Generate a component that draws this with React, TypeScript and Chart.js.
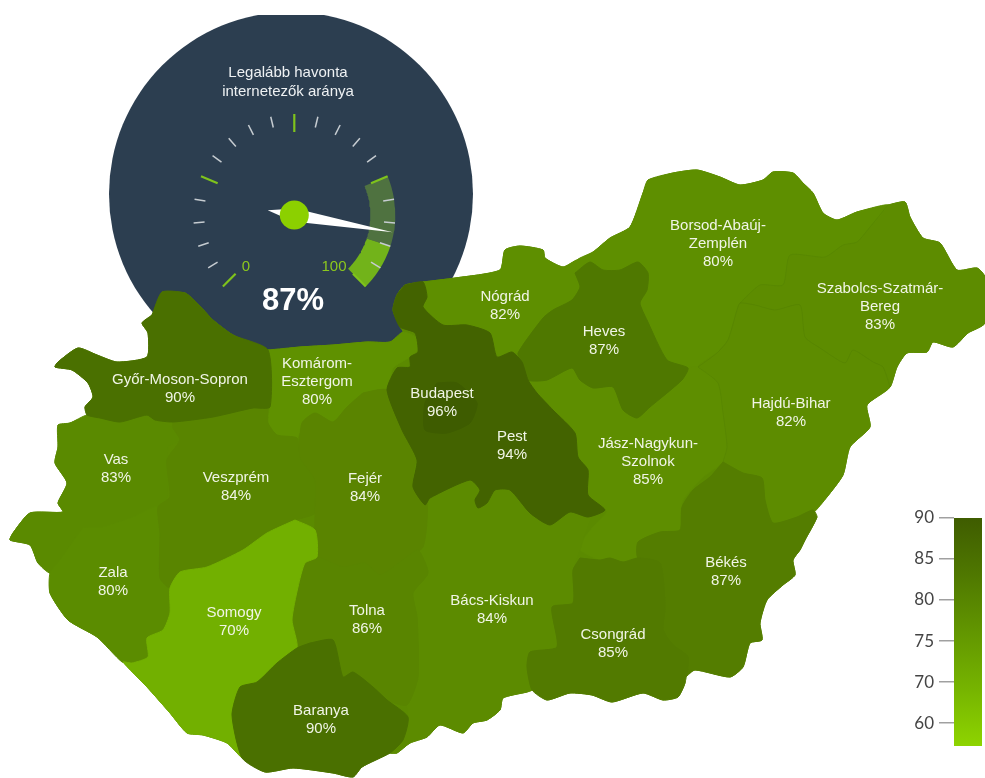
import React, { useEffect, useRef } from "react";
import { Chart, registerables } from "chart.js";

Chart.register(...registerables);

// ---------- county data ----------
const countyNames = ["Győr-Moson-Sopron","Komárom-Esztergom","Vas","Veszprém","Fejér","Zala","Somogy","Tolna","Baranya","Budapest","Pest","Nógrád","Heves","Jász-Nagykun-Szolnok","Borsod-Abaúj-Zemplén","Szabolcs-Szatmár-Bereg","Hajdú-Bihar","Bács-Kiskun","Csongrád","Békés"];
const countyShare = [90,80,83,84,84,80,70,86,90,96,94,82,87,85,80,83,82,84,85,87];
const countyColors = ["#4a7000","#5f9100","#5a8a00","#598500","#5a8400","#5b8c00","#72b000","#598500","#4a7000","#3e5c00","#436300","#5e8f00","#4f7800","#5e8e00","#5e8f00","#5d8c00","#5d8c00","#5c8b00","#527a00","#547d00"];
const countyLabelLines = [["Győr-Moson-Sopron"],["Komárom-","Esztergom"],["Vas"],["Veszprém"],["Fejér"],["Zala"],["Somogy"],["Tolna"],["Baranya"],["Budapest"],["Pest"],["Nógrád"],["Heves"],["Jász-Nagykun-","Szolnok"],["Borsod-Abaúj-","Zemplén"],["Szabolcs-Szatmár-","Bereg"],["Hajdú-Bihar"],["Bács-Kiskun"],["Csongrád"],["Békés"]];
const countyLabelAnchor = [[180,389],[317,382],[116,469],[236,487],[365,488],[113,582],[234,622],[367,620],[321,720],[442,403],[512,446],[505,306],[604,341],[648,462],[718,244],[880,307],[791,413],[492,610],[613,644],[726,572]];

const countryOutline = [162,292,185,293,197,303,213,320,233,335,268,350,300,347,333,345,367,342,390,342,403,332,400,327,393,310,397,295,405,285,423,282,455,278,500,270,505,250,520,246,543,250,545,258,563,267,577,260,593,252,610,238,630,227,643,193,648,180,673,173,697,170,720,177,740,185,763,180,773,172,793,173,803,183,813,193,823,213,837,220,857,212,888,205,905,202,910,217,923,238,940,243,957,270,977,268,985,277,985,323,968,333,953,347,933,342,927,352,907,353,897,367,890,387,867,405,870,427,850,447,843,475,827,497,813,513,817,517,805,540,800,550,793,560,795,575,783,585,767,600,760,623,762,640,750,643,743,667,730,677,695,670,685,677,685,683,678,697,663,700,643,693,612,702,592,695,570,693,547,700,532,690,527,692,503,698,500,710,487,720,473,723,463,733,440,725,427,737,410,743,397,753,390,753,362,767,353,777,333,773,293,768,265,772,242,758,227,743,203,735,187,733,170,713,147,687,123,662,97,637,68,620,50,593,50,573,38,563,30,545,10,540,13,533,30,513,63,512,58,503,67,483,55,463,58,447,58,425,70,423,87,415,85,407,93,397,88,383,72,370,55,367,58,362,78,348,97,355,117,362,147,357,148,333,142,323,152,315];
const gyor = [152,315,162,292,185,293,197,303,213,320,233,335,268,350,270,407,253,408,213,417,173,422,155,420,147,415,120,422,100,418,87,415,85,407,93,397,88,383,72,370,55,367,58,362,78,348,97,355,117,362,147,357,148,333,142,323];
const komarom = [268,350,300,347,333,345,367,342,390,342,403,332,417,338,418,350,410,357,393,368,387,390,363,393,347,407,333,422,315,413,302,423,297,438,277,435,268,423,270,407];
const vas = [58,425,70,423,87,415,100,418,120,422,147,415,155,420,173,428,180,440,168,447,167,497,158,507,150,510,133,517,103,527,83,528,60,560,50,573,38,563,30,545,10,540,13,533,30,513,63,512,58,503,67,483,55,463,58,447];
const veszprem = [173,422,213,417,253,408,267,407,268,423,277,435,297,438,300,457,315,480,315,513,295,520,267,533,243,550,207,567,180,572,170,588,160,578,160,533,158,507,170,497,167,460,180,440,173,428];
const fejer = [363,393,377,390,387,390,397,417,417,447,413,480,427,503,423,547,403,560,380,575,365,563,343,567,317,557,315,513,315,480,300,457,302,423,315,413,333,422,347,407];
const zala = [83,528,103,527,133,517,158,507,160,578,170,588,170,613,163,630,147,638,148,657,132,663,122,662,97,637,68,620,50,593,50,573,60,560];
const somogy = [295,520,315,530,317,557,305,563,298,587,292,620,297,648,277,663,257,682,240,687,232,715,242,757,227,743,203,735,187,733,170,713,147,687,123,662,132,663,148,657,147,638,163,630,170,613,170,588,180,572,207,567,243,550,267,533];
const tolna = [305,563,317,557,343,567,365,563,380,575,403,560,418,550,428,573,413,593,417,617,418,677,407,705,387,700,373,687,353,672,343,677,333,640,310,643,297,648,292,620,298,587];
const baranya = [310,643,333,640,343,677,353,672,373,687,387,700,408,717,403,740,390,753,362,767,353,777,333,773,293,768,265,772,242,758,232,715,240,687,257,682,277,663,297,648];
const budapest = [437,383,457,383,477,403,470,423,447,433,425,430,425,403];
const pest = [405,285,423,282,427,297,423,307,443,325,467,325,490,333,497,357,512,352,522,362,528,380,537,393,553,410,575,433,578,457,588,470,588,495,605,510,588,517,570,512,550,525,530,513,510,490,495,490,487,503,478,508,475,500,480,490,470,480,430,498,425,505,413,487,417,460,402,430,387,390,397,368,410,367,410,357,418,352,415,333,400,327,393,310,397,295];
const nograd = [423,282,455,278,500,270,505,250,520,246,543,250,545,258,563,267,577,260,575,273,580,287,572,300,553,310,543,318,518,353,512,352,497,357,490,333,467,325,443,325,423,307,427,297];
const heves = [575,273,590,262,603,270,620,270,638,262,648,273,647,290,640,303,647,320,667,360,688,368,682,380,650,407,637,418,623,410,613,387,593,388,580,380,572,368,547,380,528,380,522,362,518,353,543,318,553,310,572,300,580,287];
const jasz = [528,382,547,380,572,368,580,380,593,388,613,387,623,410,637,418,650,407,682,380,688,368,698,367,718,383,723,413,727,447,723,462,703,477,683,500,680,517,680,530,660,532,638,542,638,558,623,562,610,558,600,560,580,550,583,540,593,527,607,512,605,510,588,495,588,470,578,457,575,433,553,410,537,393];
const borsod = [648,180,673,173,697,170,720,177,740,185,763,180,773,172,793,173,803,183,813,193,823,213,837,220,857,212,888,205,870,227,857,242,843,245,825,257,790,255,783,285,760,285,740,303,737,310,728,340,717,353,698,367,688,368,667,360,647,320,640,303,647,290,648,273,638,262,620,270,603,270,590,262,575,273,577,260,593,252,610,238,630,227,643,193];
const szabolcs = [888,205,905,202,910,217,923,238,940,243,957,270,977,268,985,277,985,323,968,333,953,347,933,342,927,352,907,353,897,367,890,387,883,367,873,362,853,350,845,363,820,348,805,337,800,305,775,310,755,305,740,303,760,285,783,285,790,255,825,257,843,245,857,242,870,227];
const hajdu = [740,303,755,305,775,310,800,305,805,337,820,348,845,363,853,350,873,362,883,367,890,387,867,405,870,427,850,447,843,475,827,497,813,513,797,517,773,523,765,500,762,478,743,473,723,462,727,447,723,413,718,383,698,367,717,353,728,340,737,310];
const bacs = [428,500,430,498,470,480,480,490,475,500,478,508,487,503,495,490,510,490,530,513,550,525,570,512,588,517,593,512,583,540,580,550,573,570,573,603,552,607,557,647,530,652,527,667,532,690,527,692,503,698,500,710,487,720,473,723,463,733,440,725,427,737,410,743,397,753,390,753,403,740,408,717,407,705,418,677,417,617,413,593,428,573,418,550,423,547,427,503];
const csongrad = [580,558,600,560,610,558,623,562,638,558,660,563,665,607,663,630,673,645,688,657,685,683,678,697,663,700,643,693,612,702,592,695,570,693,547,700,532,690,527,667,530,652,557,647,552,607,573,603,573,570];
const bekes = [723,462,710,477,693,490,682,507,680,530,660,532,638,542,638,558,660,563,665,607,663,630,673,645,688,657,685,677,695,670,730,677,743,667,750,643,762,640,760,623,767,600,783,585,795,575,793,560,800,550,805,540,817,517,813,510,797,517,773,523,765,500,762,478,743,473];
const faintEdgeA = [888,205,870,227,857,242,843,245,825,257,790,255,783,285,760,285,740,303];
const faintEdgeB = [698,367,717,353,728,340,737,310,740,303,755,305,775,310,800,305,805,337,820,348,845,363,853,350,873,362,883,367,890,387];
const faintEdgeC = [698,367,718,383,723,413,727,447,723,462];

// Order in which the outlines are stacked; later ones lie on top.
const countyOutlines: Record<string, number[]> = {
  "Győr-Moson-Sopron": gyor, "Komárom-Esztergom": komarom, "Vas": vas, "Veszprém": veszprem, "Fejér": fejer, "Zala": zala, "Somogy": somogy, "Tolna": tolna, "Baranya": baranya, "Budapest": budapest, "Pest": pest, "Nógrád": nograd, "Heves": heves, "Jász-Nagykun-Szolnok": jasz, "Borsod-Abaúj-Zemplén": borsod, "Szabolcs-Szatmár-Bereg": szabolcs, "Hajdú-Bihar": hajdu, "Bács-Kiskun": bacs, "Csongrád": csongrad, "Békés": bekes,
};
const stackOrder = ["Szabolcs-Szatmár-Bereg","Borsod-Abaúj-Zemplén","Hajdú-Bihar","Nógrád","Komárom-Esztergom","Jász-Nagykun-Szolnok","Bács-Kiskun","Vas","Zala","Veszprém","Fejér","Tolna","Somogy","Baranya","Győr-Moson-Sopron","Békés","Csongrád","Heves","Pest","Budapest"];

// ---------- gauge data ----------
const gaugeTitle = ["Legalább havonta", "internetezők aránya"];
const gaugeValue = 87;
const gaugeTickValues = [0,5,10,15,20,25,30,35,40,45,50,55,60,65,70,75,80,85,90,95,100];
const gaugeMajorTicks = [0,25,50,75,100];
const gaugeBandValues = [75,90,100];
const gaugeBandColors = ["#4f7240","#72b31a"];
const gaugeCenter = { x: 294.3, y: 215 };
const dialCenter = { x: 291, y: 194 };

// ---------- colour scale data ----------
const legendTickLabels = ["60","70","75","80","85","90"];
const legendTickRanks = [0,1,2,3,4,5];
const legendExtent = [-0.56,5];
const legendStops = ["#3f5c00","#4f7800","#629600","#76b400","#8ed400"];

const FONT = '"Liberation Sans", Arial, sans-serif';

const toPath = (flat: number[]) => {
  const pts: { x: number; y: number }[] = [];
  for (let i = 0; i < flat.length; i += 2) pts.push({ x: flat[i], y: flat[i + 1] });
  return pts;
};
const toPoints = (flat: number[]) => {
  const pts = toPath(flat);
  pts.push({ x: flat[0], y: flat[1] });
  return pts;
};
const polar = (v: number, r: number) => {
  const a = ((-135 + 2.7 * v) * Math.PI) / 180;
  return { x: gaugeCenter.x + r * Math.sin(a), y: gaugeCenter.y - r * Math.cos(a) };
};
const bandPoints = (from: number, to: number) => {
  const out: { x: number; y: number }[] = [];
  for (let v = from; v <= to; v += 0.5) out.push(polar(v, 101));
  for (let v = to; v >= from; v -= 0.5) out.push(polar(v, 76));
  out.push(polar(from, 101));
  return out;
};
const needlePoints = (v: number) => {
  const tip = polar(v, 100);
  const tail = polar(v, -27);
  const side = 6.5;
  const a = polar(v + 90 / 2.7, side);
  const b = polar(v - 90 / 2.7, side);
  return [tail, a, tip, b, tail];
};

const textPlugin = {
  id: "mapText",
  afterDatasetsDraw(chart: any) {
    const { ctx, scales } = chart;
    const px = (v: number) => scales.x.getPixelForValue(v);
    const py = (v: number) => scales.y.getPixelForValue(v);
    ctx.save();
    ctx.textAlign = "center";
    ctx.textBaseline = "middle";
    ctx.font = `15px ${FONT}`;
    ctx.fillStyle = "#f1f5e6";
    countyNames.forEach((name, i) => {
      const lines = [...countyLabelLines[i], `${countyShare[i]}%`];
      const [ax, ay] = countyLabelAnchor[i];
      lines.forEach((t, k) => {
        ctx.fillText(t, px(ax), py(ay + (k - (lines.length - 1) / 2) * 18));
      });
    });
    ctx.font = `15px ${FONT}`;
    ctx.fillStyle = "#eef1f3";
    gaugeTitle.forEach((t, k) => ctx.fillText(t, px(288), py(73 + k * 19)));
    ctx.font = `15px ${FONT}`;
    ctx.fillStyle = "#8cc81e";
    ctx.fillText("0", px(246), py(267));
    ctx.fillText("100", px(334), py(267));
    ctx.font = `bold 31px ${FONT}`;
    ctx.fillStyle = "#ffffff";
    ctx.fillText(`${gaugeValue}%`, px(293), py(301));
    ctx.restore();
  },
};

export default function App() {
  const mapRef = useRef<HTMLCanvasElement>(null);
  const legendRef = useRef<HTMLCanvasElement>(null);

  useEffect(() => {
    const line = (data: any[], color: string, width: number, fill: boolean, tension = 0) => ({
      data,
      showLine: true,
      fill: fill ? "shape" : false,
      backgroundColor: color,
      borderColor: color,
      borderWidth: width,
      pointRadius: 0,
      tension,
    });
    const datasets: any[] = [];
    datasets.push({
      data: [dialCenter],
      pointRadius: 182,
      pointBackgroundColor: "#2c3e50",
      pointBorderWidth: 0,
      showLine: false,
      clip: 0,
    });
    gaugeBandColors.forEach((c, i) => {
      datasets.push(line(bandPoints(gaugeBandValues[i], gaugeBandValues[i + 1]), c, 0, true));
    });
    gaugeTickValues.forEach((v) => {
      const major = gaugeMajorTicks.includes(v);
      const color = major ? "#7fc31c" : "#c6ccd1";
      datasets.push(line([polar(v, major ? 83 : 90), polar(v, 101)], color, major ? 2.2 : 1.5, false));
    });
    datasets.push(line(needlePoints(gaugeValue), "#ffffff", 0, true));
    datasets.push({
      data: [gaugeCenter],
      pointRadius: 14.5,
      pointBackgroundColor: "#8cd000",
      pointBorderWidth: 0,
      showLine: false,
    });
    datasets.push(line(toPoints(countryOutline), "#5b8a00", 1, true, 0.2));
    stackOrder.forEach((name) => {
      const i = countyNames.indexOf(name);
      datasets.push(line(toPoints(countyOutlines[name]), countyColors[i], 1, true, 0.2));
    });
    [faintEdgeA, faintEdgeB, faintEdgeC].forEach((edge) => {
      datasets.push(line(toPath(edge), "rgba(74,112,0,0.22)", 1, false, 0.2));
    });
    datasets.forEach((d, i) => (d.order = -i));

    const map = new Chart(mapRef.current as HTMLCanvasElement, {
      type: "scatter",
      data: { datasets },
      options: {
        animation: false,
        responsive: false,
        events: [],
        layout: { autoPadding: false, padding: { top: 15 } },
        plugins: { legend: { display: false }, tooltip: { enabled: false } },
        scales: {
          x: { type: "linear", min: 0, max: 985, display: false },
          y: { type: "linear", min: 15, max: 778, reverse: true, display: false },
        },
      },
      plugins: [textPlugin],
    } as any);

    const legend = new Chart(legendRef.current as HTMLCanvasElement, {
      type: "bar",
      data: {
        labels: ["scale"],
        datasets: [{
          data: [legendExtent],
          barPercentage: 1,
          categoryPercentage: 1,
          borderWidth: 0,
          borderSkipped: false,
          backgroundColor: (c: any) => {
            const area = c.chart.chartArea;
            if (!area) return legendStops[0];
            const g = c.chart.ctx.createLinearGradient(0, area.top, 0, area.bottom);
            legendStops.forEach((s, i) => g.addColorStop(i / (legendStops.length - 1), s));
            return g;
          },
        }],
      },
      options: {
        animation: false,
        responsive: false,
        events: [],
        layout: { padding: { top: 28, bottom: 32, right: 3 } },
        plugins: { legend: { display: false }, tooltip: { enabled: false } },
        scales: {
          x: { display: false },
          y: {
            min: legendExtent[0],
            max: legendExtent[1],
            afterBuildTicks: (s: any) => { s.ticks = legendTickRanks.map((value) => ({ value })); },
            afterFit: (s: any) => { s.width = 74; },
            border: { display: false },
            grid: { drawOnChartArea: false, drawTicks: true, tickLength: 15, color: "#a0a0a0", lineWidth: 1.5 },
            ticks: {
              padding: 5,
              color: "#444444",
              font: { family: "Lato", size: 17 },
              callback: (v: any) => legendTickLabels[legendTickRanks.indexOf(Number(v))],
            },
          },
        },
      },
    } as any);

    return () => {
      map.destroy();
      legend.destroy();
    };
  }, []);

  return (
    <div style={{ position: "absolute", left: 0, top: 0, width: 985, height: 778, background: "#ffffff", overflow: "hidden" }}>
      <canvas ref={mapRef} width={985} height={778} style={{ position: "absolute", left: 0, top: 0, width: 985, height: 778, filter: "blur(0.4px)" }} />
      <canvas ref={legendRef} width={105} height={288} style={{ position: "absolute", left: 880, top: 490, width: 105, height: 288, filter: "blur(0.4px)" }} />
    </div>
  );
}
